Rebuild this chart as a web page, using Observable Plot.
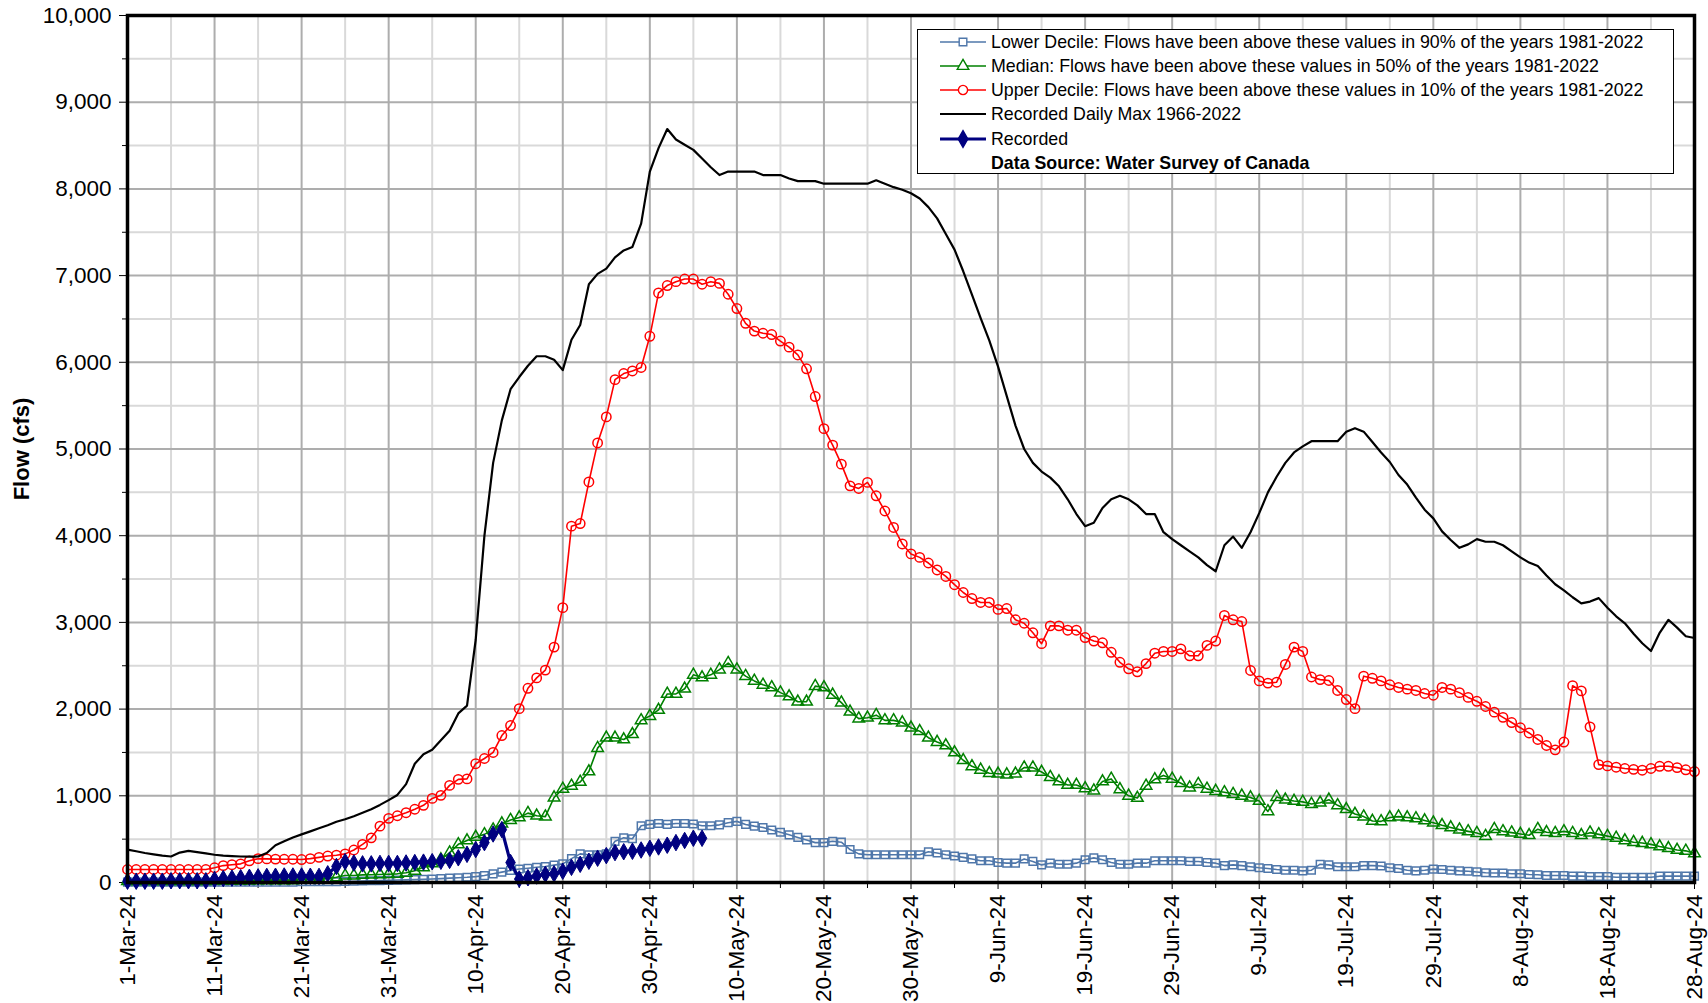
<!DOCTYPE html>
<html>
<head>
<meta charset="utf-8">
<script src="https://cdn.jsdelivr.net/npm/d3@7"></script>
<script src="https://cdn.jsdelivr.net/npm/@observablehq/plot@0.6"></script>
<style>
  html, body { margin: 0; padding: 0; background: #fff; }
  body { font-family: "Liberation Sans", Arial, sans-serif; }
  #wrap { position: relative; width: 1708px; height: 1003px; overflow: hidden; }
  #legend { position: absolute; left: 917px; top: 29px; width: 757px; height: 145px;
            border: 1px solid #000; background: #fff; box-sizing: border-box; font-size: 17.8px; color: #000; }
  #legend .row { position: absolute; left: 20px; height: 24px; display: flex; align-items: center; white-space: nowrap; }
  #legend .row svg { width: 50px; height: 24px; margin-right: 3px; flex: none; }
  #legend .bold { font-weight: bold; }
  g[aria-label="y-axis label"] text { font-weight: bold; font-size: 22px; }
</style>
</head>
<body>
<div id="wrap"></div>
<script>
// ---- Data (daily values, 1-Mar-24 .. 28-Aug-24) ----
const startDate = "2024-03-01";
const tickLabels = ["1-Mar-24","11-Mar-24","21-Mar-24","31-Mar-24","10-Apr-24","20-Apr-24","30-Apr-24",
  "10-May-24","20-May-24","30-May-24","9-Jun-24","19-Jun-24","29-Jun-24","9-Jul-24","19-Jul-24",
  "29-Jul-24","8-Aug-24","18-Aug-24","28-Aug-24"];
const yTicks = [0,1000,2000,3000,4000,5000,6000,7000,8000,9000,10000];
const yMinor = [500,1500,2500,3500,4500,5500,6500,7500,8500,9500];

const lowerDecile = [
  5,5,5,5,5,5,5,5,5,5, 5,5,5,5,5,5,5,5,5,5,
  8,8,8,8,8,12,15,18,20,22, 25,28,30,33,36,40,45,50,55,60,
  68,80,100,120,140,155,165,175,185,200, 215,275,330,320,320,330,475,515,505,655,
  670,680,670,680,680,675,655,655,665,690, 705,670,650,635,605,580,550,520,490,460,
  460,475,465,380,330,320,320,320,320,320, 320,320,355,340,320,305,290,272,251,251,
  231,223,223,272,243,203,223,211,211,223, 263,284,263,231,211,211,223,223,251,251,
  251,251,243,243,231,223,195,203,195,182, 170,162,150,142,142,134,142,211,203,182,
  182,182,195,195,190,170,162,142,134,142, 154,150,142,134,130,122,113,109,109,101,
  101,93,89,81,81,81,73,73,69,69, 69,61,61,61,61,61,73,73,73,73, 73
];
const median = [
  15,15,15,15,15,15,15,15,15,15, 20,20,20,20,20,25,25,25,25,25,
  35,38,42,45,60,80,80,88,90,92, 95,100,112,135,175,220,265,345,440,485,
  525,555,610,680,720,750,800,770,760,980, 1080,1115,1160,1280,1550,1670,1670,1650,1710,1870,
  1920,1990,2175,2175,2235,2395,2365,2395,2455,2530, 2455,2380,2325,2280,2250,2190,2145,2085,2085,2265,
  2250,2165,2075,1970,1890,1900,1930,1870,1870,1845, 1785,1745,1670,1620,1580,1500,1410,1340,1300,1260,
  1255,1245,1255,1325,1325,1275,1215,1165,1125,1125, 1085,1060,1165,1195,1075,1000,975,1115,1190,1235,
  1195,1145,1095,1135,1080,1055,1040,1020,1000,980, 940,820,985,955,940,930,905,920,955,890,
  845,790,760,710,705,750,760,750,740,715, 690,660,635,610,590,570,535,615,590,575,
  560,545,615,580,570,590,570,545,575,555, 535,515,485,465,455,440,415,395,375,365, 335
];
const upperDecile = [
  150,150,150,150,150,150,150,150,150,150, 170,195,205,215,250,275,272,270,268,268,
  265,275,290,305,315,330,375,440,515,650, 740,770,805,845,890,970,1005,1120,1190,1195,
  1370,1430,1500,1695,1810,2005,2240,2360,2450,2715, 3170,4110,4140,4620,5070,5370,5800,5870,5900,5940,
  6300,6800,6885,6930,6960,6960,6900,6930,6910,6785, 6620,6450,6360,6335,6320,6245,6175,6085,5925,5605,
  5235,5045,4825,4575,4545,4615,4460,4285,4095,3905, 3790,3750,3685,3605,3530,3435,3345,3275,3230,3230,
  3150,3160,3030,2990,2880,2755,2960,2960,2910,2910, 2825,2785,2765,2655,2540,2465,2430,2525,2645,2665,
  2665,2695,2615,2615,2735,2785,3080,3030,3010,2445, 2325,2300,2310,2515,2715,2665,2370,2340,2330,2215,
  2110,2005,2380,2355,2325,2280,2250,2230,2215,2180, 2160,2250,2230,2190,2135,2090,2030,1965,1905,1845,
  1785,1725,1650,1580,1530,1620,2270,2210,1795,1360, 1345,1330,1315,1305,1295,1315,1340,1340,1325,1300, 1280
];
const dailyMax = [
  380,360,340,325,310,300,345,365,350,335, 320,310,305,300,298,300,340,430,475,520,
  555,590,625,660,700,730,765,805,845,895, 950,1010,1135,1370,1480,1530,1640,1750,1950,2040,
  2800,4000,4840,5330,5690,5830,5960,6070,6070,6030, 5910,6260,6430,6900,7020,7080,7210,7290,7330,7600,
  8200,8470,8690,8570,8510,8450,8350,8250,8160,8200, 8200,8200,8200,8160,8160,8160,8120,8090,8090,8090,
  8060,8060,8060,8060,8060,8060,8100,8060,8020,7990, 7950,7890,7790,7660,7480,7300,7050,6780,6510,6250,
  5950,5610,5270,5000,4840,4740,4670,4570,4420,4250, 4110,4150,4320,4420,4460,4420,4350,4250,4250,4040,
  3960,3890,3820,3750,3660,3590,3890,3990,3860,4040, 4260,4500,4680,4840,4960,5030,5090,5090,5090,5090,
  5200,5240,5200,5080,4960,4850,4700,4590,4440,4300, 4200,4050,3950,3860,3900,3960,3930,3930,3890,3820,
  3750,3690,3650,3540,3440,3370,3290,3220,3240,3280, 3170,3070,2990,2870,2760,2670,2880,3030,2940,2840, 2820
];
const recorded = [
  15,15,15,15,15,20,20,20,20,20, 35,45,50,55,60,65,70,72,75,75,
  75,72,70,100,185,240,225,215,215,220, 220,220,225,230,235,240,245,255,285,325,
  380,460,560,610,230,40,55,75,95,100, 130,175,210,245,280,310,345,355,360,375,
  395,410,430,460,485,510,510
];

// ---- Build tables ----
const parseTick = d3.utcParse("%d-%b-%y");
const t0 = d3.utcParse("%Y-%m-%d")(startDate);
const dateOf = i => d3.utcDay.offset(t0, i);
const rows = arr => arr.map((v, i) => ({date: dateOf(i), v}));
const lowerRows = rows(lowerDecile);
const medianRows = rows(median);
const upperRows = rows(upperDecile);
const maxRows = rows(dailyMax);
const recRows = rows(recorded);

const tickDates = tickLabels.map(parseTick);
const halfTicks = tickDates.slice(0, -1).map(d => d3.utcDay.offset(d, 5));
const innerMajor = tickDates.slice(1, -1);

const C = {lower: "#4f77aa", median: "#008000", upper: "#ff0000", max: "#000000", rec: "#000080"};
const fmtComma = d3.format(",");

const chart = Plot.plot({
  width: 1708,
  height: 1003,
  marginLeft: 127,
  marginRight: 14,
  marginTop: 15,
  marginBottom: 121,
  style: {fontFamily: "'Liberation Sans', Arial, sans-serif", fontSize: "22px", background: "white", color: "black"},
  x: {type: "utc", domain: [tickDates[0], tickDates[tickDates.length - 1]]},
  y: {domain: [0, 10000]},
  marks: [
    Plot.ruleX(halfTicks, {stroke: "#d9d9d9", strokeWidth: 2}),
    Plot.ruleY(yMinor, {stroke: "#d9d9d9", strokeWidth: 2}),
    Plot.ruleX(innerMajor, {stroke: "#adadad", strokeWidth: 2}),
    Plot.ruleY(yTicks.slice(1, -1), {stroke: "#adadad", strokeWidth: 2}),

    Plot.axisY(yTicks, {tickSize: 8, tickPadding: 8, tickFormat: fmtComma, fontSize: 22.5,
      label: "Flow (cfs)", labelAnchor: "center", labelArrow: "none", labelOffset: 114}),
    Plot.axisY(yMinor, {tickSize: 5, tickFormat: () => "", label: null}),
    Plot.axisX(tickDates, {tickSize: 7, tickPadding: 5, tickRotate: -90, fontSize: 22.5,
      tickFormat: d3.utcFormat("%-d-%b-%y"), label: null}),
    Plot.axisX(halfTicks, {tickSize: 6, tickFormat: () => "", label: null}),

    Plot.line(lowerRows, {x: "date", y: "v", stroke: C.lower, strokeWidth: 1.6}),
    Plot.dot(lowerRows, {x: "date", y: "v", symbol: "square", r: 4.3, stroke: C.lower, fill: "none", strokeWidth: 1.5}),
    Plot.line(medianRows, {x: "date", y: "v", stroke: C.median, strokeWidth: 1.6}),
    Plot.dot(medianRows, {x: "date", y: "v", symbol: "triangle", r: 4.3, stroke: C.median, fill: "none", strokeWidth: 1.5}),
    Plot.line(upperRows, {x: "date", y: "v", stroke: C.upper, strokeWidth: 1.6}),
    Plot.dot(upperRows, {x: "date", y: "v", symbol: "circle", r: 4.7, stroke: C.upper, fill: "none", strokeWidth: 1.5}),
    Plot.line(maxRows, {x: "date", y: "v", stroke: C.max, strokeWidth: 2.2}),
    Plot.line(recRows, {x: "date", y: "v", stroke: C.rec, strokeWidth: 3.2}),
    Plot.dot(recRows, {x: "date", y: "v", symbol: "diamond", r: 5, fill: C.rec, stroke: C.rec, strokeWidth: 1}),

    Plot.frame({stroke: "black", strokeWidth: 3.5})
  ]
});

const wrap = document.getElementById("wrap");
wrap.appendChild(chart);

// ---- Legend (HTML overlay inside plot area) ----
const legendItems = [
  {label: "Lower Decile: Flows have been above these values in 90% of the years 1981-2022", color: C.lower, sym: "square"},
  {label: "Median: Flows have been above these values in 50% of the years 1981-2022", color: C.median, sym: "triangle"},
  {label: "Upper Decile: Flows have been above these values in 10% of the years 1981-2022", color: C.upper, sym: "circle"},
  {label: "Recorded Daily Max 1966-2022", color: C.max, sym: null},
  {label: "Recorded", color: C.rec, sym: "diamond"},
  {label: "Data Source: Water Survey of Canada", color: null, sym: "none", bold: true}
];
const rowTops = [0, 24, 48, 72, 97, 121];
const legend = document.createElement("div");
legend.id = "legend";
const symPath = {
  square: d3.symbol(d3.symbolSquare, 58)(),
  triangle: d3.symbol(d3.symbolTriangle, 58)(),
  circle: d3.symbol(d3.symbolCircle, 66)(),
  diamond: d3.symbol(d3.symbolDiamond, 80)()
};
legendItems.forEach((it, i) => {
  const row = document.createElement("div");
  row.className = "row" + (it.bold ? " bold" : "");
  row.style.top = rowTops[i] + "px";
  let icon = "";
  if (it.sym !== "none") {
    const sw = it.sym === "diamond" ? 3.2 : (it.sym === null ? 2.2 : 1.6);
    icon += `<line x1="2" x2="48" y1="12" y2="12" stroke="${it.color}" stroke-width="${sw}"/>`;
    if (it.sym) {
      const filled = it.sym === "diamond";
      icon += `<path transform="translate(25,12)" d="${symPath[it.sym]}" fill="${filled ? it.color : "white"}" stroke="${it.color}" stroke-width="1.4"/>`;
    }
  }
  row.innerHTML = `<svg viewBox="0 0 50 24">${icon}</svg><span>${it.label}</span>`;
  legend.appendChild(row);
});
wrap.appendChild(legend);
</script>
</body>
</html>
